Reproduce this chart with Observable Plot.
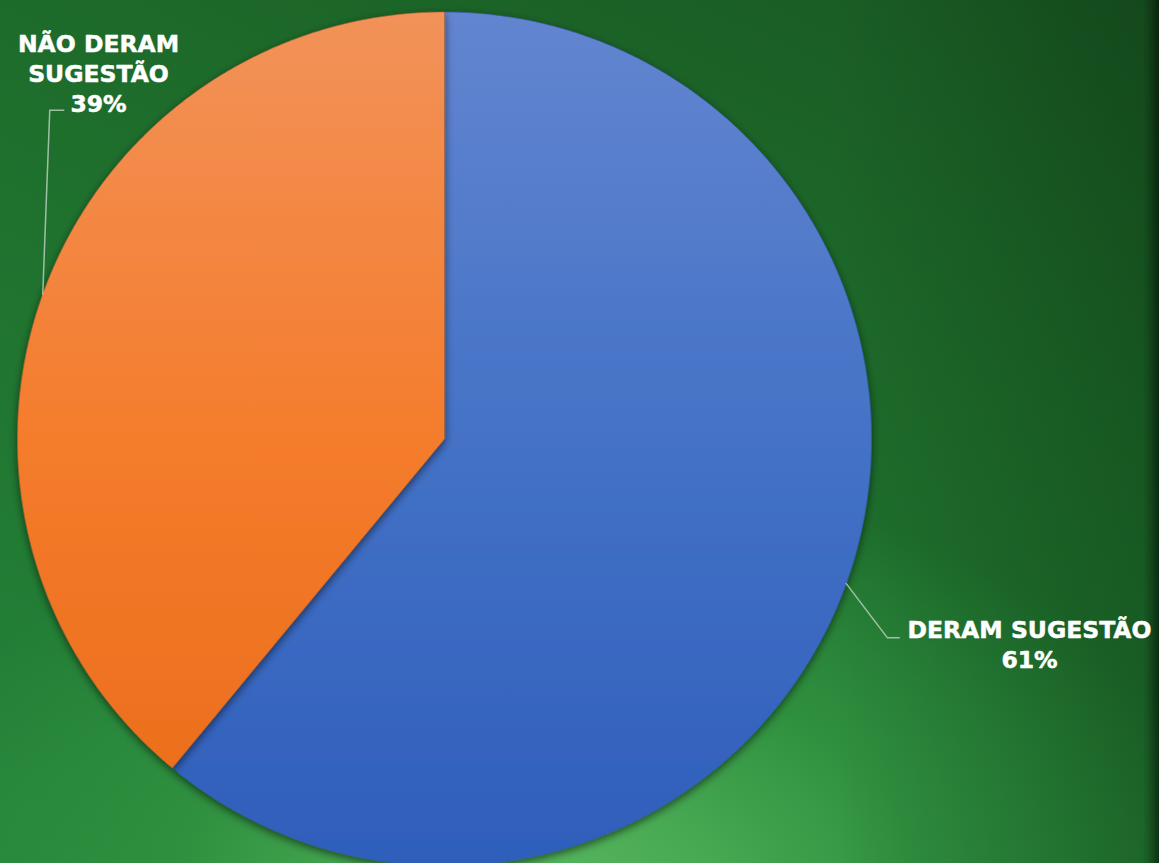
<!DOCTYPE html>
<html>
<head>
<meta charset="utf-8">
<script src="https://cdn.jsdelivr.net/npm/d3@7"></script>
<script src="https://cdn.jsdelivr.net/npm/@observablehq/plot@0.6"></script>
<style>
  html, body { margin: 0; padding: 0; }
  body {
    width: 1159px; height: 863px; overflow: hidden;
    background:
      linear-gradient(to right, rgba(0,0,0,0) calc(100% - 16px), rgba(0,0,0,0.15) calc(100% - 10px), rgba(0,0,0,0.5) 100%),
      linear-gradient(to right, rgba(0,20,0,0) 72%, rgba(0,20,0,0.22) 100%),
      radial-gradient(ellipse 680px 430px at 550px 900px, #58b860 0%, #48a953 25%, #2f903f 55%, rgba(36,134,55,0) 100%),
      linear-gradient(205deg, #195723 0%, #1d6a2a 35%, #217832 70%, #24853a 100%);
  }
</style>
</head>
<body>
<div id="chart"></div>
<script>
// ---- data ----
const categories = ["DERAM SUGESTÃO", "NÃO DERAM SUGESTÃO"];
const values = [61, 39];
const percentLabels = ["61%", "39%"];
const labelNames = ["DERAM SUGESTÃO", "NÃO DERAM\nSUGESTÃO"];

// ---- layout ----
const W = 1159, H = 863;
const cx = 444, cy = 438.5, R = 427;
const gradients = [
  ["#6385d0", "#4472c6", "#2e5ebb"],
  ["#f29259", "#f47c2c", "#ea6b19"]
];
// label leader offsets (relative to slice edge point): elbow dx,dy ; end dx ; text x, last baseline
const leaderLayout = [
  {elbow: [41, 54], endDx: 12, textX: 1029, textY: 667},
  {elbow: [7, -184], endDx: 14, textX: 98, textY: 111}
];

const pie = d3.pie().sort(null).value(d => d)(values);
const pt = (a, r) => ({x: cx + r * Math.sin(a), y: cy - r * Math.cos(a)});

const slices = pie.map((p, i) => {
  const pts = [{...pt(0, 0)}];
  const n = Math.max(2, Math.ceil((p.endAngle - p.startAngle) / (Math.PI / 360)));
  for (let k = 0; k <= n; k++) {
    pts.push(pt(p.startAngle + (p.endAngle - p.startAngle) * k / n, R));
  }
  return pts;
});

const leaders = pie.map((p, i) => {
  const mid = (p.startAngle + p.endAngle) / 2;
  const e = pt(mid, R);
  const L = leaderLayout[i];
  const elbow = {x: e.x + L.elbow[0], y: e.y + L.elbow[1]};
  const end = {x: elbow.x + L.endDx, y: elbow.y};
  return [e, elbow, end].map(d => ({...d, k: i}));
}).flat();

const labels = pie.map((p, i) => ({
  x: leaderLayout[i].textX,
  y: leaderLayout[i].textY,
  text: labelNames[i] + "\n" + percentLabels[i]
}));

const defsMark = () => {
  const defs = d3.create("svg:defs");
  gradients.forEach((g, i) => {
    const lg = defs.append("linearGradient")
      .attr("id", "sliceGrad" + i)
      .attr("gradientUnits", "userSpaceOnUse")
      .attr("x1", 0).attr("x2", 0)
      .attr("y1", cy - R).attr("y2", cy + R);
    lg.append("stop").attr("offset", "0%").attr("stop-color", g[0]);
    lg.append("stop").attr("offset", "50%").attr("stop-color", g[1]);
    lg.append("stop").attr("offset", "100%").attr("stop-color", g[2]);
  });
  const f = defs.append("filter").attr("id", "pieShadow")
    .attr("x", "-10%").attr("y", "-10%").attr("width", "120%").attr("height", "120%");
  f.append("feDropShadow").attr("dx", 0).attr("dy", 3).attr("stdDeviation", 4)
    .attr("flood-color", "#000").attr("flood-opacity", 0.55);
  return defs.node();
};

const plot = Plot.plot({
  width: W,
  height: H,
  margin: 0,
  style: "background: transparent; overflow: visible;",
  x: {domain: [0, W], range: [0, W], axis: null},
  y: {domain: [0, H], range: [0, H], axis: null},
  marks: [
    defsMark,
    ...slices.map((pts, i) => Plot.line(pts, {
      x: "x", y: "y",
      curve: "linear-closed",
      fill: `url(#sliceGrad${i})`,
      stroke: i === 0 ? "#2f5aa8" : "#b0602a",
      strokeOpacity: 0.55,
      strokeWidth: 1
    })),
    Plot.line(leaders, {
      x: "x", y: "y", z: "k",
      stroke: "#b8cdb8",
      strokeOpacity: 0.85,
      strokeWidth: 1.5
    }),
    Plot.text(labels, {
      x: "x", y: "y", text: "text",
      textAnchor: "middle",
      lineAnchor: "bottom",
      lineHeight: 1.27,
      fill: "white",
      stroke: "white",
      strokeWidth: 0.5,
      fontSize: 23.5,
      fontWeight: "bold",
      fontFamily: "DejaVu Sans, Verdana, sans-serif"
    })
  ]
});

// apply shadow to slice groups
const lineGroups = plot.querySelectorAll('g[aria-label="line"]');
for (let i = 0; i < slices.length; i++) {
  if (lineGroups[i]) lineGroups[i].setAttribute("filter", "url(#pieShadow)");
}

document.getElementById("chart").appendChild(plot);
</script>
</body>
</html>
